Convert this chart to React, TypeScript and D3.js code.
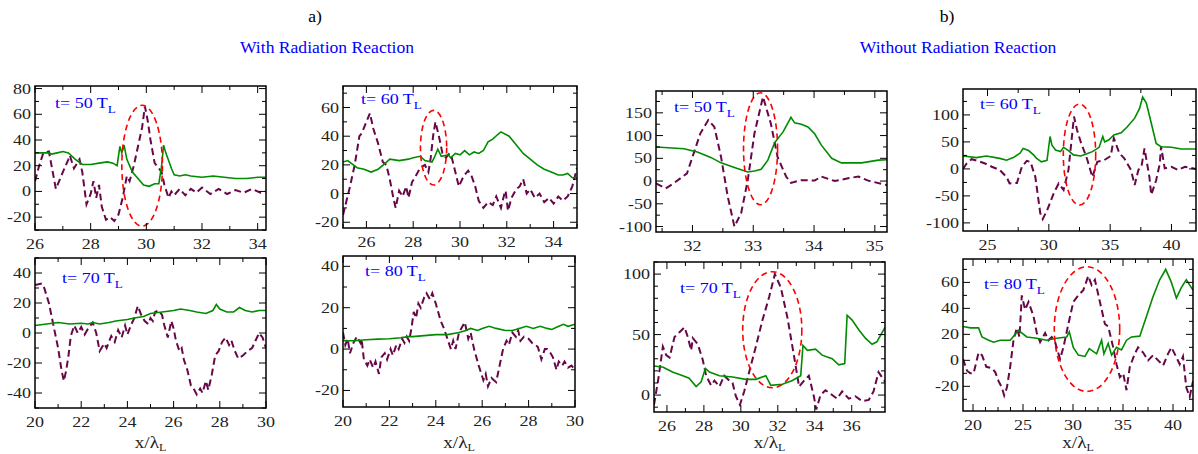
import React from 'react';
import * as d3 from 'd3';

type Pt = [number, number];

// ---- a) with radiation reaction ----
const rr50Solid: Pt[] = [
  [26, 30], [26.3, 30], [26.5, 30], [26.6, 29], [26.8, 30], [27.0, 31], [27.2, 30], [27.45, 25], [27.7, 21], [28.0, 21],
  [28.3, 22], [28.6, 23], [28.8, 22], [28.95, 20], [29.05, 35], [29.12, 30], [29.2, 36], [29.3, 25], [29.5, 15], [29.7, 10],
  [29.9, 5], [30.1, 4], [30.3, 6], [30.45, 6], [30.55, 20], [30.62, 36], [30.7, 30], [30.8, 24], [30.9, 18], [31.0, 13],
  [31.2, 12], [31.4, 13], [31.6, 12], [32.0, 11], [32.4, 12], [32.8, 11], [33.2, 10], [33.6, 10], [34.0, 11], [34.3, 11],
];
const rr50Dashed: Pt[] = [
  [26, 8], [26.15, 20], [26.3, 30], [26.5, 31], [26.75, 2], [27.0, 15], [27.2, 25], [27.25, 28], [27.4, 18], [27.6, 25],
  [27.7, 15], [27.85, -10], [28.0, -2], [28.1, 8], [28.2, -5], [28.3, 5], [28.4, -12], [28.55, -22], [28.7, -20], [28.85, -23],
  [29.0, -18], [29.15, -5], [29.3, 12], [29.4, 8], [29.55, 20], [29.7, 35], [29.85, 50], [29.95, 66], [30.05, 55], [30.15, 40],
  [30.3, 22], [30.45, 18], [30.55, 15], [30.65, 5], [30.8, -5], [30.9, 0], [31.0, -3], [31.2, 2], [31.4, -3], [31.6, 2],
  [31.8, -1], [32.0, 3], [32.3, -2], [32.6, 2], [32.9, -2], [33.2, 1], [33.5, -1], [33.8, 2], [34.1, -1], [34.3, 0],
];
const rr60Solid: Pt[] = [
  [25, 22], [25.2, 23], [25.6, 18], [25.9, 17], [26.2, 15], [26.5, 17], [26.8, 21], [27.0, 24], [27.4, 23], [27.8, 24],
  [28.0, 25], [28.3, 26], [28.5, 23], [28.8, 22], [28.9, 25], [29.05, 31], [29.2, 26], [29.5, 27], [29.6, 25], [29.8, 28],
  [30.0, 27], [30.2, 30], [30.4, 27], [30.6, 29], [30.8, 28], [31.0, 30], [31.2, 36], [31.4, 38], [31.6, 41], [31.75, 43],
  [32.1, 40], [32.4, 34], [32.7, 28], [33.0, 24], [33.3, 20], [33.6, 17], [33.9, 15], [34.2, 13], [34.4, 13], [34.6, 14],
  [34.8, 11], [35, 11],
];
const rr60Dashed: Pt[] = [
  [25, -15], [25.3, 5], [25.5, 20], [25.7, 40], [25.8, 42], [26.0, 50], [26.15, 56], [26.3, 45], [26.5, 35], [26.7, 22],
  [26.85, 20], [27.0, 10], [27.15, -3], [27.25, -10], [27.4, 2], [27.55, -2], [27.7, 5], [27.8, -3], [27.95, 8], [28.1, 12],
  [28.3, 18], [28.5, 20], [28.65, 15], [28.75, 25], [28.85, 40], [28.95, 50], [29.1, 40], [29.25, 28], [29.4, 25], [29.55, 28],
  [29.65, 25], [29.8, 15], [29.95, 5], [30.15, 12], [30.35, 16], [30.5, 12], [30.65, 5], [30.8, -5], [31.0, -10], [31.2, -6],
  [31.4, -8], [31.55, -2], [31.75, -10], [31.9, 0], [31.95, 2], [32.05, -12], [32.2, -3], [32.4, 3], [32.55, 5], [32.7, 10],
  [32.85, 0], [33.0, 3], [33.2, -3], [33.4, 0], [33.6, -6], [33.8, -3], [34.0, -7], [34.2, -2], [34.4, -5], [34.6, -2],
  [34.8, 5], [35, 18],
];
const rr70Solid: Pt[] = [
  [20, 5], [20.5, 6], [21.0, 7], [21.5, 6], [22.0, 6.5], [22.3, 6], [22.5, 7], [22.8, 6], [23.2, 7], [23.5, 8],
  [24.0, 9], [24.3, 10], [24.7, 11], [25.0, 13], [25.5, 14], [26.0, 15], [26.3, 16], [26.7, 15], [27.0, 14], [27.4, 13],
  [27.7, 15], [27.85, 19], [28.0, 16], [28.3, 14], [28.6, 14], [28.85, 17], [29.1, 15], [29.4, 14], [29.7, 15], [30, 15],
];
const rr70Dashed: Pt[] = [
  [20, 32], [20.3, 33], [20.4, 30], [20.6, 20], [20.8, 5], [21.0, -10], [21.15, -25], [21.25, -32], [21.35, -25], [21.45, -15],
  [21.55, -2], [21.7, 5], [21.85, 0], [22.0, 4], [22.15, -1], [22.3, 3], [22.5, 7], [22.65, 0], [22.8, -12], [23.0, -7],
  [23.1, -10], [23.3, -2], [23.45, -6], [23.6, 2], [23.75, -3], [23.9, 5], [24.0, -1], [24.15, 5], [24.3, 10], [24.45, 18],
  [24.6, 12], [24.75, 8], [24.9, 6], [25.0, 10], [25.1, 8], [25.2, 14], [25.35, 15], [25.5, 12], [25.6, 5], [25.75, -3],
  [25.9, 8], [26.0, 3], [26.1, -5], [26.25, -12], [26.35, -10], [26.45, -18], [26.6, -25], [26.75, -35], [26.9, -38], [27.0, -41],
  [27.15, -37], [27.25, -40], [27.4, -32], [27.5, -38], [27.65, -28], [27.8, -15], [27.95, -12], [28.1, -6], [28.25, -3], [28.4, -8],
  [28.5, -5], [28.65, -12], [28.8, -17], [29.0, -15], [29.2, -12], [29.4, -10], [29.55, -5], [29.7, 0], [29.85, -3], [30, -10],
];
const rr80Solid: Pt[] = [
  [20, 4], [20.5, 4], [21.0, 4.5], [21.5, 4.8], [22.0, 5], [22.5, 5.5], [22.8, 6], [23.0, 6], [23.5, 6.5], [24.0, 7],
  [24.5, 7], [25.0, 8], [25.3, 9], [25.5, 10], [25.8, 9], [26.0, 10], [26.3, 11], [26.6, 10], [27.0, 9], [27.3, 9],
  [27.6, 10], [27.9, 11], [28.2, 10], [28.5, 11], [28.8, 10], [29.0, 9.5], [29.3, 11], [29.5, 12], [29.7, 11], [30, 12],
];
const rr80Dashed: Pt[] = [
  [20, 8], [20.1, 2], [20.2, 5], [20.3, -2], [20.45, 3], [20.6, 6], [20.75, 3], [20.8, 5], [20.9, -5], [21.05, -8],
  [21.15, -5], [21.3, -9], [21.4, -6], [21.55, -12], [21.65, -4], [21.8, -2], [21.9, -5], [22.05, 0], [22.15, -3], [22.3, 2],
  [22.4, 0], [22.55, 5], [22.65, 3], [22.75, 6], [22.85, 4], [22.95, 10], [23.05, 18], [23.15, 15], [23.25, 22], [23.35, 20],
  [23.5, 25], [23.6, 27], [23.75, 24], [23.85, 27], [24.0, 22], [24.1, 18], [24.2, 14], [24.35, 10], [24.5, 5], [24.65, 0],
  [24.75, 4], [24.85, 0], [25.0, 8], [25.2, 12], [25.25, 13], [25.4, 5], [25.5, 8], [25.65, 0], [25.85, -8], [26.05, -15],
  [26.15, -12], [26.25, -18], [26.4, -14], [26.6, -16], [26.75, -8], [26.9, 0], [27.05, 4], [27.15, 2], [27.3, 8], [27.45, 6],
  [27.55, 9], [27.65, 4], [27.8, 6], [28.0, 5], [28.15, 3], [28.3, 2], [28.4, 1], [28.55, -5], [28.7, 0], [28.8, 0],
  [28.95, -2], [29.05, -4], [29.2, -10], [29.3, -6], [29.45, -8], [29.55, -6], [29.7, -9], [29.85, -8], [30, -10],
];

// ---- b) without radiation reaction ----
const nr50Solid: Pt[] = [
  [31.4, 75], [31.86, 71], [32.08, 64], [32.3, 52], [32.47, 40], [32.69, 30], [32.91, 20], [33.02, 22], [33.13, 26], [33.24, 46],
  [33.35, 84], [33.49, 108], [33.62, 140], [33.68, 128], [33.79, 125], [33.9, 119], [34.01, 104], [34.12, 79], [34.29, 50], [34.45, 40],
  [34.78, 40], [35.06, 46], [35.2, 47],
];
const nr50Dashed: Pt[] = [
  [31.4, -5], [31.56, -16], [31.69, -5], [31.8, 6], [31.91, 17], [32.02, 61], [32.13, 105], [32.26, 134], [32.36, 119], [32.47, 53],
  [32.58, -34], [32.69, -100], [32.8, -71], [32.91, 2], [33.02, 105], [33.16, 185], [33.29, 126], [33.4, 53], [33.54, 10], [33.62, -4],
  [33.79, 2], [34.01, 1], [34.12, 10], [34.34, 0], [34.56, 6], [34.73, 10], [34.89, 1], [35.2, -9],
];
const nr60Solid: Pt[] = [
  [23, 24], [24.1, 21], [24.9, 24], [26.0, 19.5], [26.55, 16], [27.1, 21], [27.65, 29], [27.9, 38], [28.35, 34], [28.75, 26],
  [29.0, 19.5], [29.4, 13], [29.85, 16], [30.1, 60], [30.25, 44], [30.55, 35], [30.95, 32], [31.2, 40], [31.6, 34], [32.0, 26],
  [32.6, 24], [33.1, 28], [33.55, 32], [34.1, 40], [34.4, 60], [34.55, 50], [34.9, 54], [35.3, 63], [35.9, 67], [36.4, 78],
  [37.0, 94], [37.4, 112], [37.65, 133], [37.95, 122], [38.35, 85], [38.75, 47], [39.15, 41], [40.0, 40], [40.8, 37], [42, 37],
];
const nr60Dashed: Pt[] = [
  [23, 0], [23.3, 10], [23.7, 18], [24.2, 15], [24.8, 10], [25.35, 4], [26.0, -2], [26.55, -15], [26.8, -27], [27.4, -26],
  [27.8, 4], [28.2, 15], [28.5, 13], [28.9, -15], [29.3, -82], [29.5, -93], [29.85, -77], [30.4, -45], [30.8, -27], [31.2, -39],
  [31.6, -2], [32.05, 97], [32.3, 72], [32.6, 50], [32.85, 35], [33.15, 16], [33.55, -15], [33.95, 13], [34.5, 16], [35.05, 24],
  [35.3, 57], [35.75, 29], [36.15, 19.5], [36.7, -2], [37.0, -30], [37.3, -2], [37.55, 4], [37.8, 38], [38.2, -15], [38.35, -48],
  [38.75, -21], [39.05, 10], [39.15, 42], [39.45, 1], [40.0, 4], [40.55, -2], [41.1, 4], [42, 0],
];
const nr70Solid: Pt[] = [
  [25.3, 24], [25.8, 23], [26.3, 19], [26.86, 16], [27.2, 14], [27.58, 7], [27.85, 11], [28.08, 22], [28.3, 19], [28.84, 16],
  [29.55, 15], [30.27, 13], [30.81, 13], [31.35, 16], [31.62, 8], [32.25, 9], [32.79, 12], [33.24, 16], [33.36, 41], [33.6, 37],
  [34.04, 38], [34.4, 33], [34.94, 30], [35.3, 25], [35.62, 26], [35.75, 66], [36.02, 62], [36.38, 54], [36.74, 47], [37.1, 42],
  [37.36, 44], [37.8, 56],
];
const nr70Dashed: Pt[] = [
  [25.3, -8], [25.52, 12], [25.78, 40], [25.96, 33], [26.14, 31], [26.41, 48], [26.68, 52], [26.95, 56], [27.13, 48], [27.31, 37],
  [27.4, 47], [27.67, 42], [27.94, 29], [28.12, 16], [28.39, 8], [28.57, 12], [28.84, 7], [29.1, 16], [29.37, 12], [29.55, 10],
  [29.73, -1], [29.95, -8], [30.18, 3], [30.45, 19], [30.81, 40], [31.17, 62], [31.53, 81], [31.84, 100], [32.16, 89], [32.52, 64],
  [32.88, 32], [33.15, 7], [33.42, 12], [33.68, 16], [33.95, -1], [34.08, -12], [34.31, 0], [34.58, 4], [34.94, 0], [35.21, -3],
  [35.48, 3], [35.84, -3], [36.2, -1], [36.56, -5], [36.92, -4], [37.18, 3], [37.45, 19], [37.8, 11],
];
const nr80Solid: Pt[] = [
  [19, 26], [19.73, 25], [20.56, 25], [20.9, 18], [21.56, 15.5], [22.06, 14], [22.72, 15.5], [23.72, 15.5], [24.55, 23], [25.38, 18],
  [26.38, 17], [27.37, 15.5], [28.37, 17], [29.37, 18], [29.63, 22], [30.03, 10], [30.53, 4], [31.2, 3], [31.63, 9], [32.36, 5],
  [32.86, 15.5], [33.09, 5], [33.52, 13], [33.86, 4], [34.35, 10], [34.85, 8], [35.35, 15.5], [35.85, 18], [36.68, 18.6], [37.35, 34],
  [38.0, 49], [38.67, 62], [39.27, 70], [39.84, 60], [40.34, 48], [40.83, 56], [41.33, 62], [42, 54],
];
const nr80Dashed: Pt[] = [
  [19, 1], [19.4, -8], [19.73, -10], [20.06, -10], [20.56, 6], [20.9, 4], [21.33, -5], [21.89, -6], [22.22, -9], [22.56, -16],
  [22.89, -21], [23.12, -27], [23.39, -21], [23.72, -5], [24.05, 15.5], [24.38, 25], [24.65, 18], [24.88, 50], [25.21, 39], [25.55, 45],
  [26.05, 34], [26.38, 21], [26.71, 14], [27.21, 21], [27.54, 15.5], [27.87, 18], [28.21, 14], [28.71, 1], [29.04, 10], [29.54, 28],
  [30.03, 45], [30.53, 50], [31.03, 54], [31.53, 65], [31.86, 58], [32.19, 62], [32.69, 45], [33.19, 28], [33.52, 26], [34.02, 10],
  [34.35, -3], [34.69, -13], [35.02, -10], [35.35, -23], [35.68, -5], [36.18, 5], [36.51, 10], [37.01, 6], [37.51, 0], [38.01, 4],
  [38.51, 0], [39.01, -4], [39.5, 5], [39.84, 10], [40.17, 5], [40.67, -3], [41.0, 3], [41.33, -21], [41.67, -28], [42, -16],
];

// tick labels
const x26to34 = [26, 28, 30, 32, 34];
const x20to30 = [20, 22, 24, 26, 28, 30];
const x32to35 = [32, 33, 34, 35];
const x25to40 = [25, 30, 35, 40];
const x26to36 = [26, 28, 30, 32, 34, 36];
const x20to40 = [20, 25, 30, 35, 40];

// red dashed ellipses: [cx, cy, rx, ry] in data units
const rr50Ellipse = [29.85, 20, 0.73, 47];
const rr60Ellipse = [28.87, 32, 0.56, 26];
const nr50Ellipse = [33.12, 71, 0.28, 123];
const nr60Ellipse = [32.5, 26.5, 1.32, 93.5];
const nr70Ellipse = [31.7, 54, 1.6, 48];
const nr80Ellipse = [31.4, 24, 3.27, 48];

const times = [50, 60, 70, 80];

const GREEN = '#008b00';
const MAROON = '#670748';
const FONT = '"Liberation Serif", "Times New Roman", serif';
// the source figure is stretched sideways, so is its lettering
const SX = 1.2;

interface PanelSpec {
  id: string;
  box: [number, number, number, number];
  xDomain: [number, number];
  yDomain: [number, number];
  xTicks: number[];
  xMinor: number;
  yTicks: number[];
  yMinor: number;
  solid: Pt[];
  dashed: Pt[];
  ellipse: number[] | null;
  time: number;
  label: [number, number];
  xTitle: boolean;
}

const panels: PanelSpec[] = [
  { id: 'p1', box: [35, 86, 266, 230], xDomain: [26, 34.3], yDomain: [-30, 82], xTicks: x26to34, xMinor: 1,
    yTicks: [-20, 0, 20, 40, 60, 80], yMinor: 10, solid: rr50Solid, dashed: rr50Dashed, ellipse: rr50Ellipse,
    time: times[0], label: [20, 22], xTitle: false },
  { id: 'p2', box: [343, 86, 577, 228], xDomain: [25, 35], yDomain: [-24, 75], xTicks: x26to34, xMinor: 1,
    yTicks: [-20, 0, 20, 40, 60], yMinor: 10, solid: rr60Solid, dashed: rr60Dashed, ellipse: rr60Ellipse,
    time: times[1], label: [18, 18], xTitle: false },
  { id: 'p3', box: [35, 258, 266, 408], xDomain: [20, 30], yDomain: [-50, 50], xTicks: x20to30, xMinor: 1,
    yTicks: [-40, -20, 0, 20, 40], yMinor: 10, solid: rr70Solid, dashed: rr70Dashed, ellipse: null,
    time: times[2], label: [27, 25], xTitle: true },
  { id: 'p4', box: [343, 256, 575, 407], xDomain: [20, 30], yDomain: [-28, 45], xTicks: x20to30, xMinor: 1,
    yTicks: [-20, 0, 20, 40], yMinor: 10, solid: rr80Solid, dashed: rr80Dashed, ellipse: null,
    time: times[3], label: [22, 20], xTitle: true },
  { id: 'p5', box: [656, 91, 887, 232], xDomain: [31.4, 35.2], yDomain: [-112, 198], xTicks: x32to35, xMinor: 0.5,
    yTicks: [-100, -50, 0, 50, 100, 150], yMinor: 25, solid: nr50Solid, dashed: nr50Dashed, ellipse: nr50Ellipse,
    time: times[0], label: [18, 21], xTitle: false },
  { id: 'p6', box: [963, 89, 1196, 231], xDomain: [23, 42], yDomain: [-115, 148], xTicks: x25to40, xMinor: 2.5,
    yTicks: [-100, -50, 0, 50, 100], yMinor: 25, solid: nr60Solid, dashed: nr60Dashed, ellipse: nr60Ellipse,
    time: times[1], label: [17, 20], xTitle: false },
  { id: 'p7', box: [654, 262, 885, 412], xDomain: [25.3, 37.8], yDomain: [-14, 110], xTicks: x26to36, xMinor: 1,
    yTicks: [0, 50, 100], yMinor: 10, solid: nr70Solid, dashed: nr70Dashed, ellipse: nr70Ellipse,
    time: times[2], label: [26, 31], xTitle: true },
  { id: 'p8', box: [963, 259, 1193, 411], xDomain: [19, 42], yDomain: [-39, 78], xTicks: x20to40, xMinor: 1.25,
    yTicks: [-20, 0, 20, 40, 60], yMinor: 10, solid: nr80Solid, dashed: nr80Dashed, ellipse: nr80Ellipse,
    time: times[3], label: [21, 30], xTitle: true },
];

function minorTicks(domain: [number, number], step: number, major: number[]) {
  const start = Math.ceil(domain[0] / step - 1e-9) * step;
  return d3.range(start, domain[1] + 1e-9, step)
    .filter(v => !major.some(m => Math.abs(m - v) < 1e-6));
}

// text stretched horizontally around its anchor point
function SText({ x, y, sx = SX, children, ...rest }: any) {
  return (
    <text transform={`translate(${x},${y}) scale(${sx},1)`} fontFamily={FONT} {...rest}>
      {children}
    </text>
  );
}

function Panel({ p }: { p: PanelSpec }) {
  const [l, t, r, b] = p.box;
  const x = d3.scaleLinear().domain(p.xDomain).range([l, r]);
  const y = d3.scaleLinear().domain(p.yDomain).range([b, t]);
  const line = d3.line<Pt>().x(d => x(d[0])).y(d => y(d[1]));
  const xMaj = p.xTicks.filter(v => v >= p.xDomain[0] - 1e-9 && v <= p.xDomain[1] + 1e-9);
  const yMaj = p.yTicks.filter(v => v >= p.yDomain[0] - 1e-9 && v <= p.yDomain[1] + 1e-9);
  const xMin = minorTicks(p.xDomain, p.xMinor, xMaj);
  const yMin = minorTicks(p.yDomain, p.yMinor, yMaj);
  const MAJ = 7, MIN = 4;

  let ell = null;
  if (p.ellipse) {
    const [cx, cy, rx, ry] = p.ellipse;
    ell = (
      <ellipse cx={x(cx)} cy={y(cy)} rx={x(cx + rx) - x(cx)} ry={y(cy - ry) - y(cy)}
        fill="none" stroke="#ff0000" strokeWidth={1.6} strokeDasharray="6,4" />
    );
  }

  return (
    <g>
      <defs>
        <clipPath id={`clip-${p.id}`}>
          <rect x={l} y={t} width={r - l} height={b - t} />
        </clipPath>
      </defs>
      <g clipPath={`url(#clip-${p.id})`}>
        <path d={line(p.dashed) || ''} fill="none" stroke={MAROON} strokeWidth={2} strokeDasharray="7,4" />
        <path d={line(p.solid) || ''} fill="none" stroke={GREEN} strokeWidth={1.6} />
        {ell}
      </g>
      <rect x={l} y={t} width={r - l} height={b - t} fill="none" stroke="#000" strokeWidth={1.5} />
      <g stroke="#000" strokeWidth={1}>
        {xMaj.map(v => (
          <g key={`xM${v}`}>
            <line x1={x(v)} x2={x(v)} y1={b} y2={b - MAJ} />
            <line x1={x(v)} x2={x(v)} y1={t} y2={t + MAJ} />
          </g>
        ))}
        {xMin.map(v => (
          <g key={`xm${v}`}>
            <line x1={x(v)} x2={x(v)} y1={b} y2={b - MIN} />
            <line x1={x(v)} x2={x(v)} y1={t} y2={t + MIN} />
          </g>
        ))}
        {yMaj.map(v => (
          <g key={`yM${v}`}>
            <line x1={l} x2={l + MAJ} y1={y(v)} y2={y(v)} />
            <line x1={r} x2={r - MAJ} y1={y(v)} y2={y(v)} />
          </g>
        ))}
        {yMin.map(v => (
          <g key={`ym${v}`}>
            <line x1={l} x2={l + MIN} y1={y(v)} y2={y(v)} />
            <line x1={r} x2={r - MIN} y1={y(v)} y2={y(v)} />
          </g>
        ))}
      </g>
      <g fontSize={15} fill="#222">
        {xMaj.map(v => (
          <SText key={`xl${v}`} x={x(v)} y={b + 18.5} textAnchor="middle">{v}</SText>
        ))}
        {yMaj.map(v => (
          <SText key={`yl${v}`} x={l - 4} y={y(v) + 5} textAnchor="end">{v}</SText>
        ))}
      </g>
      <SText x={l + p.label[0]} y={t + p.label[1]} fontSize={15} fill="#0000ff">
        t= {p.time} T<tspan fontSize={11} dy={5}>L</tspan>
      </SText>
      {p.xTitle && (
        <SText x={(l + r) / 2} y={448} fontSize={16} fill="#222" textAnchor="middle">
          x/λ<tspan fontSize={10} dy={3}>L</tspan>
        </SText>
      )}
    </g>
  );
}

export default function App() {
  return (
    <svg width={1198} height={454} style={{ position: 'absolute', left: 0, top: 0, background: '#fff' }}>
      <SText x={315} y={22} fontSize={16} textAnchor="middle" fill="#000" sx={1.1}>a)</SText>
      <SText x={327} y={53} fontSize={16} textAnchor="middle" fill="#0000ff" sx={1.1}>With Radiation Reaction</SText>
      <SText x={947} y={22} fontSize={16} textAnchor="middle" fill="#000" sx={1.1}>b)</SText>
      <SText x={958} y={53} fontSize={16} textAnchor="middle" fill="#0000ff" sx={1.1}>Without Radiation Reaction</SText>
      {panels.map(p => <Panel key={p.id} p={p} />)}
    </svg>
  );
}
